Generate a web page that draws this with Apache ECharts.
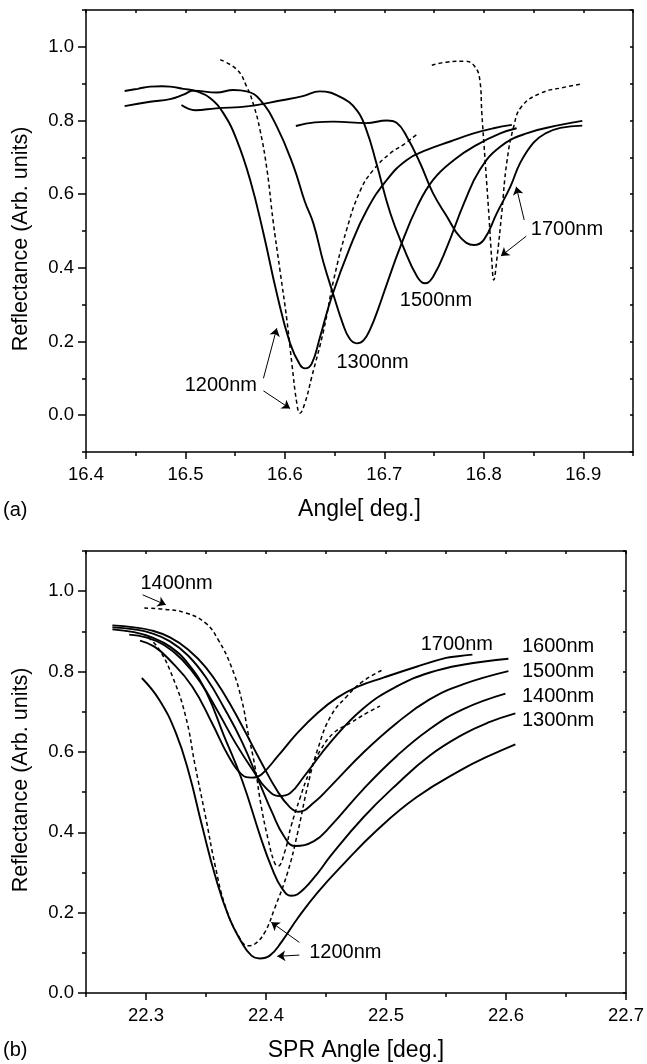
<!DOCTYPE html>
<html>
<head>
<meta charset="utf-8">
<script src="https://cdn.jsdelivr.net/npm/echarts@6.0.0/dist/echarts.min.js"></script>
<style>
  html, body { margin: 0; padding: 0; background: #fff; }
  #chart { width: 647px; height: 1064px; }
</style>
</head>
<body>
<div id="chart"></div>
<script>
// ---- panel (a): reflectance vs angle ----
const a1200Solid = [[16.4388,0.880],[16.452,0.886],[16.4644,0.892],[16.4764,0.893],[16.4845,0.892],[16.4979,0.886],[16.5113,0.879],[16.5247,0.861],[16.5381,0.820],[16.5516,0.747],[16.5650,0.639],[16.5784,0.494],[16.5918,0.331],[16.6052,0.195],[16.6153,0.136],[16.6203,0.127],[16.6270,0.140],[16.6354,0.213],[16.647,0.321],[16.6656,0.457],[16.6824,0.557],[16.7025,0.639],[16.7226,0.693],[16.7427,0.720],[16.7662,0.743],[16.7897,0.765],[16.8098,0.779],[16.8282,0.788]];
const a1300Solid = [[16.4388,0.839],[16.4644,0.851],[16.4845,0.858],[16.4979,0.870],[16.508,0.881],[16.5315,0.876],[16.5482,0.883],[16.5616,0.879],[16.5751,0.856],[16.5918,0.784],[16.6086,0.676],[16.6200,0.580],[16.6287,0.520],[16.6387,0.415],[16.649,0.325],[16.658,0.250],[16.665,0.208],[16.6723,0.195],[16.679,0.203],[16.686,0.235],[16.694,0.290],[16.703,0.360],[16.716,0.457],[16.733,0.566],[16.749,0.639],[16.770,0.693],[16.793,0.734],[16.8165,0.765],[16.833,0.779]];
const a1500Solid = [[16.496,0.842],[16.51,0.828],[16.5306,0.833],[16.564,0.839],[16.597,0.855],[16.618,0.866],[16.635,0.879],[16.655,0.865],[16.672,0.829],[16.682,0.774],[16.692,0.684],[16.706,0.548],[16.719,0.457],[16.733,0.376],[16.741,0.358],[16.749,0.376],[16.763,0.457],[16.780,0.575],[16.796,0.666],[16.8165,0.729],[16.843,0.765],[16.877,0.788],[16.899,0.799]];
const a1700Solid = [[16.611,0.785],[16.63,0.795],[16.649,0.797],[16.682,0.793],[16.7025,0.800],[16.7126,0.793],[16.7226,0.756],[16.736,0.684],[16.749,0.602],[16.763,0.539],[16.776,0.484],[16.790,0.462],[16.800,0.476],[16.813,0.548],[16.8266,0.620],[16.8366,0.685],[16.850,0.740],[16.862,0.765],[16.877,0.780],[16.899,0.786]];
const a1200Dash = [[16.535,0.965],[16.552,0.9375],[16.5616,0.892],[16.568,0.847],[16.575,0.774],[16.582,0.666],[16.588,0.530],[16.595,0.394],[16.602,0.258],[16.607,0.140],[16.612,0.032],[16.615,0.005],[16.620,0.032],[16.627,0.104],[16.639,0.231],[16.649,0.367],[16.662,0.503],[16.676,0.611],[16.689,0.666],[16.706,0.711],[16.719,0.734],[16.734,0.765]];
const a1700Dash = [[16.7477,0.950],[16.764,0.959],[16.781,0.961],[16.7905,0.948],[16.796,0.91],[16.798,0.82],[16.8015,0.684],[16.805,0.548],[16.808,0.421],[16.810,0.367],[16.813,0.421],[16.818,0.548],[16.823,0.684],[16.830,0.783],[16.838,0.838],[16.857,0.874],[16.877,0.888],[16.898,0.899]];
const aXTicks = [16.4, 16.5, 16.6, 16.7, 16.8, 16.9];
const aYTicks = [0.0, 0.2, 0.4, 0.6, 0.8, 1.0];
// label text: [x, y, text]
const aNotes = [[16.5356,0.080,'1200nm'],[16.6882,0.142,'1300nm'],[16.7519,0.312,'1500nm'],[16.8836,0.503,'1700nm']];
// arrows: [fromX, fromY, toX, toY]
const aArrows = [[16.5784,0.100,16.5918,0.236],[16.5784,0.066,16.6052,0.018],[16.8406,0.530,16.8326,0.620],[16.8427,0.486,16.8172,0.432]];

// ---- panel (b): reflectance vs SPR angle ----
const b1200Solid = [[22.2965,0.784],[22.311,0.730],[22.3248,0.648],[22.3357,0.548],[22.3467,0.416],[22.3577,0.291],[22.3687,0.192],[22.3797,0.126],[22.3879,0.093],[22.3948,0.086],[22.4031,0.093],[22.4127,0.126],[22.4264,0.186],[22.4429,0.250],[22.4649,0.322],[22.4924,0.405],[22.5254,0.487],[22.5638,0.557],[22.5858,0.590],[22.6078,0.619]];
const b1300Solid = [[22.272,0.905],[22.29,0.898],[22.305,0.885],[22.32,0.862],[22.335,0.82],[22.35,0.75],[22.365,0.64],[22.38,0.53],[22.396,0.383],[22.405,0.31],[22.413,0.262],[22.421,0.242],[22.4264,0.246],[22.443,0.298],[22.454,0.342],[22.4814,0.438],[22.5089,0.519],[22.536,0.590],[22.5638,0.643],[22.586,0.674],[22.6078,0.696]];
const b1400Solid = [[22.272,0.910],[22.29,0.905],[22.305,0.895],[22.32,0.875],[22.335,0.84],[22.35,0.785],[22.365,0.71],[22.38,0.625],[22.395,0.52],[22.405,0.45],[22.415,0.39],[22.424,0.366],[22.44,0.378],[22.454,0.416],[22.481,0.507],[22.509,0.590],[22.536,0.656],[22.564,0.706],[22.5995,0.745]];
const b1500Solid = [[22.272,0.915],[22.29,0.910],[22.305,0.902],[22.32,0.885],[22.335,0.855],[22.35,0.81],[22.365,0.745],[22.38,0.665],[22.395,0.58],[22.41,0.50],[22.42,0.462],[22.427,0.451],[22.44,0.474],[22.454,0.515],[22.481,0.598],[22.509,0.672],[22.536,0.730],[22.564,0.768],[22.602,0.801]];
const b1600Solid = [[22.286,0.892],[22.30,0.885],[22.315,0.866],[22.33,0.83],[22.345,0.775],[22.36,0.70],[22.375,0.62],[22.39,0.55],[22.40,0.51],[22.411,0.490],[22.42,0.497],[22.432,0.540],[22.454,0.625],[22.481,0.708],[22.509,0.763],[22.536,0.797],[22.564,0.817],[22.602,0.832]];
const b1700Solid = [[22.295,0.877],[22.307,0.862],[22.3193,0.830],[22.3385,0.763],[22.355,0.672],[22.3687,0.590],[22.3797,0.544],[22.388,0.536],[22.3962,0.544],[22.41,0.590],[22.4264,0.648],[22.443,0.697],[22.4594,0.735],[22.476,0.762],[22.4979,0.785],[22.5254,0.812],[22.55,0.834],[22.56,0.838],[22.572,0.842]];
const b1200Dash = [[22.302,0.885],[22.311,0.855],[22.322,0.788],[22.333,0.689],[22.341,0.565],[22.3495,0.441],[22.3577,0.316],[22.366,0.217],[22.377,0.142],[22.3852,0.1175],[22.3907,0.122],[22.399,0.151],[22.407,0.209],[22.418,0.300],[22.4264,0.399],[22.4347,0.515],[22.443,0.606],[22.454,0.689],[22.4676,0.739],[22.481,0.776],[22.4979,0.805]];
const b1400Dash = [[22.2986,0.958],[22.315,0.955],[22.333,0.946],[22.3495,0.921],[22.36,0.880],[22.371,0.813],[22.3797,0.730],[22.385,0.648],[22.3907,0.565],[22.396,0.465],[22.4017,0.383],[22.407,0.325],[22.41,0.316],[22.4155,0.350],[22.421,0.416],[22.428,0.482],[22.436,0.548],[22.4457,0.606],[22.4567,0.648],[22.4704,0.672],[22.4841,0.697],[22.495,0.714]];
const bXTicks = [22.3, 22.4, 22.5, 22.6, 22.7];
const bYTicks = [0.0, 0.2, 0.4, 0.6, 0.8, 1.0];
const bNotes = [[22.3255,1.020,'1400nm'],[22.559,0.867,'1700nm']];
// labels at the right end, left aligned
const bNotesRight = [[22.6133,0.863,'1600nm'],[22.6133,0.801,'1500nm'],[22.6133,0.739,'1400nm'],[22.6133,0.677,'1300nm'],[22.436,0.101,'1200nm']];
const bArrows = [[22.2972,0.991,22.3165,0.966],[22.4278,0.126,22.4044,0.176],[22.4278,0.0944,22.4094,0.0912]];

const FONT = 'Liberation Sans, Arial, sans-serif';
const BLACK = '#000';

function axesFor(grid, xMin, xMax, xTicks, yMin, yMax, yTicks, xName) {
  const line = { color: BLACK, width: 1.5 };
  const xAxis = [
    {
      gridIndex: grid, type: 'value', min: xMin, max: xMax, position: 'bottom',
      name: xName, nameLocation: 'middle', nameGap: 46,
      nameTextStyle: { fontSize: 23, color: BLACK, fontFamily: FONT },
      axisLine: { show: true, onZero: false, lineStyle: line },
      axisTick: { show: true, customValues: xTicks, length: 7, lineStyle: line },
      axisLabel: { customValues: xTicks, formatter: v => v.toFixed(1), fontSize: 18.5, color: BLACK, fontFamily: FONT, margin: 13 },
      splitLine: { show: false }
    },
    {
      gridIndex: grid, type: 'value', min: xMin, max: xMax, interval: 0.05, position: 'bottom',
      axisLine: { show: false, onZero: false },
      axisTick: { show: true, length: 4, lineStyle: line },
      axisLabel: { show: false }, splitLine: { show: false }
    },
    {
      gridIndex: grid, type: 'value', min: xMin, max: xMax, interval: 0.05, position: 'top',
      axisLine: { show: true, onZero: false, lineStyle: line },
      axisTick: { show: true, inside: true, length: 3, lineStyle: line },
      axisLabel: { show: false }, splitLine: { show: false }
    }
  ];
  const yAxis = [
    {
      gridIndex: grid, type: 'value', min: yMin, max: yMax, position: 'left',
      name: 'Reflectance (Arb. units)', nameLocation: 'middle', nameGap: 54,
      nameTextStyle: { fontSize: 21.5, color: BLACK, fontFamily: FONT, padding: [0, 16, 0, 0] },
      axisLine: { show: true, onZero: false, lineStyle: line },
      axisTick: { show: true, customValues: yTicks, length: 8, lineStyle: line },
      axisLabel: { customValues: yTicks, formatter: v => v.toFixed(1), fontSize: 18.5, color: BLACK, fontFamily: FONT, margin: 12 },
      splitLine: { show: false }
    },
    {
      gridIndex: grid, type: 'value', min: yMin, max: yMax, interval: 0.1, position: 'left',
      axisLine: { show: false, onZero: false },
      axisTick: { show: true, length: 4, lineStyle: line },
      axisLabel: { show: false }, splitLine: { show: false }
    },
    {
      gridIndex: grid, type: 'value', min: yMin, max: yMax, interval: 0.1, position: 'right',
      axisLine: { show: true, onZero: false, lineStyle: line },
      axisTick: { show: true, inside: true, length: 3, lineStyle: line },
      axisLabel: { show: false }, splitLine: { show: false }
    }
  ];
  return { xAxis, yAxis };
}

function curve(axis, data, dashed) {
  return {
    type: 'line', xAxisIndex: axis, yAxisIndex: axis, data: data,
    symbol: 'none', smooth: 0.45, silent: true,
    lineStyle: { color: BLACK, width: dashed ? 1.5 : 1.9, type: dashed ? [4, 3] : 'solid' }
  };
}

function notes(axis, items, position, arrows) {
  const s = {
    type: 'scatter', xAxisIndex: axis, yAxisIndex: axis, symbolSize: 0, silent: true,
    itemStyle: { opacity: 1 },
    data: items.map(n => ({ value: [n[0], n[1]], label: { formatter: n[2] } })),
    label: { show: true, position: position, distance: 0, fontSize: 20, color: BLACK, opacity: 1, fontFamily: FONT }
  };
  if (arrows) {
    s.markLine = {
      silent: true, symbol: ['none', 'arrow'], symbolSize: 8, label: { show: false },
      lineStyle: { color: BLACK, width: 1, type: 'solid', opacity: 1 },
      data: arrows.map(a => [{ coord: [a[0], a[1]] }, { coord: [a[2], a[3]] }])
    };
  }
  return s;
}

const ax = axesFor(0, 16.4, 16.95, aXTicks, -0.1, 1.1, aYTicks, 'Angle[ deg.]');
const bx = axesFor(1, 22.25, 22.7, bXTicks, 0, 1.1, bYTicks, 'SPR Angle [deg.]');

const chart = echarts.init(document.getElementById('chart'));
chart.setOption({
  animation: false,
  backgroundColor: '#fff',
  title: [
    { text: '(a)', left: 3, top: 500, padding: 0, textStyle: { fontSize: 20, fontWeight: 'normal', color: BLACK, fontFamily: FONT } },
    { text: '(b)', left: 3, top: 1040, padding: 0, textStyle: { fontSize: 20, fontWeight: 'normal', color: BLACK, fontFamily: FONT } }
  ],
  grid: [
    { left: 86, top: 10, width: 547, height: 442 },
    { left: 86, top: 551, width: 546, height: 442 }
  ],
  xAxis: ax.xAxis.concat(bx.xAxis),
  yAxis: ax.yAxis.concat(bx.yAxis),
  series: [
    curve(0, a1200Solid, false),
    curve(0, a1300Solid, false),
    curve(0, a1500Solid, false),
    curve(0, a1700Solid, false),
    curve(0, a1200Dash, true),
    curve(0, a1700Dash, true),
    notes(0, aNotes, 'inside', aArrows),
    curve(3, b1200Solid, false),
    curve(3, b1300Solid, false),
    curve(3, b1400Solid, false),
    curve(3, b1500Solid, false),
    curve(3, b1600Solid, false),
    curve(3, b1700Solid, false),
    curve(3, b1200Dash, true),
    curve(3, b1400Dash, true),
    notes(3, bNotes, 'inside', bArrows),
    notes(3, bNotesRight, 'right', null)
  ]
});
</script>
</body>
</html>
